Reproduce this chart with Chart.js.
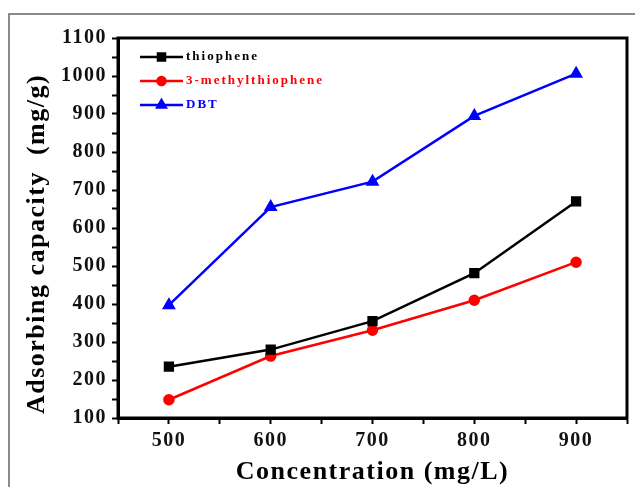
<!DOCTYPE html>
<html>
<head>
<meta charset="utf-8">
<script src="https://cdn.jsdelivr.net/npm/chart.js@4"></script>
<style>
    html, body { margin: 0; padding: 0; background: #fff; }
    #wrap { width: 635px; height: 487px; }
</style>
</head>
<body>
<div id="wrap"><canvas id="adsChart" width="635" height="487"></canvas></div>
<script>
const concentrations = [500, 600, 700, 800, 900];
const seriesNames = ['thiophene', '3-methylthiophene', 'DBT'];
const thiophene = [235, 280, 355, 481, 670];
const methylThiophene = [148, 263, 331, 410, 510];
const dbt = [397, 655, 722, 895, 1006];
const xTicks = [500, 600, 700, 800, 900];
const yTicks = [100, 200, 300, 400, 500, 600, 700, 800, 900, 1000, 1100];

const FONT = "'Liberation Serif', 'Times New Roman', serif";

function toPoints(values) {
    return concentrations.map((c, i) => ({ x: c, y: values[i] }));
}

// thin grey frame of the original figure + letter spacing of the scan
const pageFrame = {
    id: 'pageFrame',
    beforeDraw(chart) {
        const ctx = chart.ctx;
        ctx.save();
        ctx.strokeStyle = '#666';
        ctx.lineWidth = 1.5;
        ctx.beginPath();
        ctx.moveTo(9, 487);
        ctx.lineTo(9, 14);
        ctx.lineTo(635, 14);
        ctx.stroke();
        ctx.restore();
        ctx.letterSpacing = '1.5px';
    },
    afterDraw(chart) {
        const { ctx, chartArea } = chart;
        ctx.save();
        ctx.strokeStyle = '#000';
        ctx.lineWidth = 3;
        ctx.strokeRect(chartArea.left, chartArea.top,
            chartArea.right - chartArea.left, chartArea.bottom - chartArea.top);
        ctx.restore();
    }
};

// legend inside the plot: line + marker + coloured label
const insideLegend = {
    id: 'insideLegend',
    afterDraw(chart) {
        const { ctx, chartArea } = chart;
        ctx.save();
        ctx.letterSpacing = '2px';
        chart.data.datasets.forEach((ds, i) => {
            const y = chartArea.top + 19 + i * 24;
            const x0 = chartArea.left + 22;
            const x1 = chartArea.left + 65;
            ctx.strokeStyle = ds.borderColor;
            ctx.lineWidth = 2.5;
            ctx.beginPath();
            ctx.moveTo(x0, y);
            ctx.lineTo(x1, y);
            ctx.stroke();
            ctx.fillStyle = ds.borderColor;
            Chart.helpers.drawPoint(ctx, {
                pointStyle: ds.pointStyle,
                radius: ds.pointRadius - 0.5,
                borderWidth: 1
            }, (x0 + x1) / 2, y);
            ctx.fill();
            ctx.font = 'bold 13px ' + FONT;
            ctx.textBaseline = 'middle';
            ctx.textAlign = 'left';
            ctx.fillText(ds.label, x1 + 3, y);
        });
        ctx.restore();
    }
};

const ctx = document.getElementById('adsChart').getContext('2d');
new Chart(ctx, {
    type: 'line',
    data: {
        datasets: [{
            label: seriesNames[0],
            data: toPoints(thiophene),
            borderColor: '#000000',
            backgroundColor: '#000000',
            pointStyle: 'rect',
            pointRadius: 5.5,
            borderWidth: 2.5
        }, {
            label: seriesNames[1],
            data: toPoints(methylThiophene),
            borderColor: '#ff0000',
            backgroundColor: '#ff0000',
            pointStyle: 'circle',
            pointRadius: 4.5,
            borderWidth: 2.5
        }, {
            label: seriesNames[2],
            data: toPoints(dbt),
            borderColor: '#0000ff',
            backgroundColor: '#0000ff',
            pointStyle: 'triangle',
            pointRadius: 5.5,
            borderWidth: 2.5
        }]
    },
    options: {
        responsive: false,
        animation: false,
        layout: { padding: { left: 0, top: 38, right: 7, bottom: 0 } },
        plugins: {
            legend: { display: false },
            tooltip: { enabled: false }
        },
        scales: {
            x: {
                type: 'linear',
                min: 450,
                max: 950,
                afterFit: scale => { scale.height = 69; },
                border: { display: true, color: '#000', width: 3 },
                grid: { drawOnChartArea: false, drawTicks: true, tickLength: 6, tickColor: '#000', tickWidth: 2 },
                ticks: {
                    stepSize: 50,
                    padding: 5,
                    color: '#111',
                    font: { family: FONT, size: 20, weight: 'bold' },
                    maxRotation: 0,
                    autoSkip: false,
                    callback: v => xTicks.includes(v) ? String(v) : ''
                },
                title: {
                    display: true,
                    text: 'Concentration (mg/L)',
                    color: '#000',
                    font: { family: FONT, size: 26, weight: 'bold', lineHeight: 1.1 },
                    padding: { top: 0, bottom: 0 }
                }
            },
            y: {
                min: 100,
                max: 1100,
                afterFit: scale => { scale.width = 118; },
                border: { display: true, color: '#000', width: 3 },
                grid: { drawOnChartArea: false, drawTicks: true, tickLength: 6, tickColor: '#000', tickWidth: 2 },
                ticks: {
                    stepSize: 50,
                    padding: 5,
                    color: '#111',
                    font: { family: FONT, size: 20, weight: 'bold' },
                    autoSkip: false,
                    callback: v => yTicks.includes(v) ? String(v) : ''
                },
                title: {
                    display: true,
                    text: 'Adsorbing capacity  (mg/g)    ',
                    color: '#000',
                    font: { family: FONT, size: 26, weight: 'bold', lineHeight: 1.1 },
                    padding: { top: 23, bottom: 0 }
                }
            }
        }
    },
    plugins: [pageFrame, insideLegend]
});
</script>
</body>
</html>
